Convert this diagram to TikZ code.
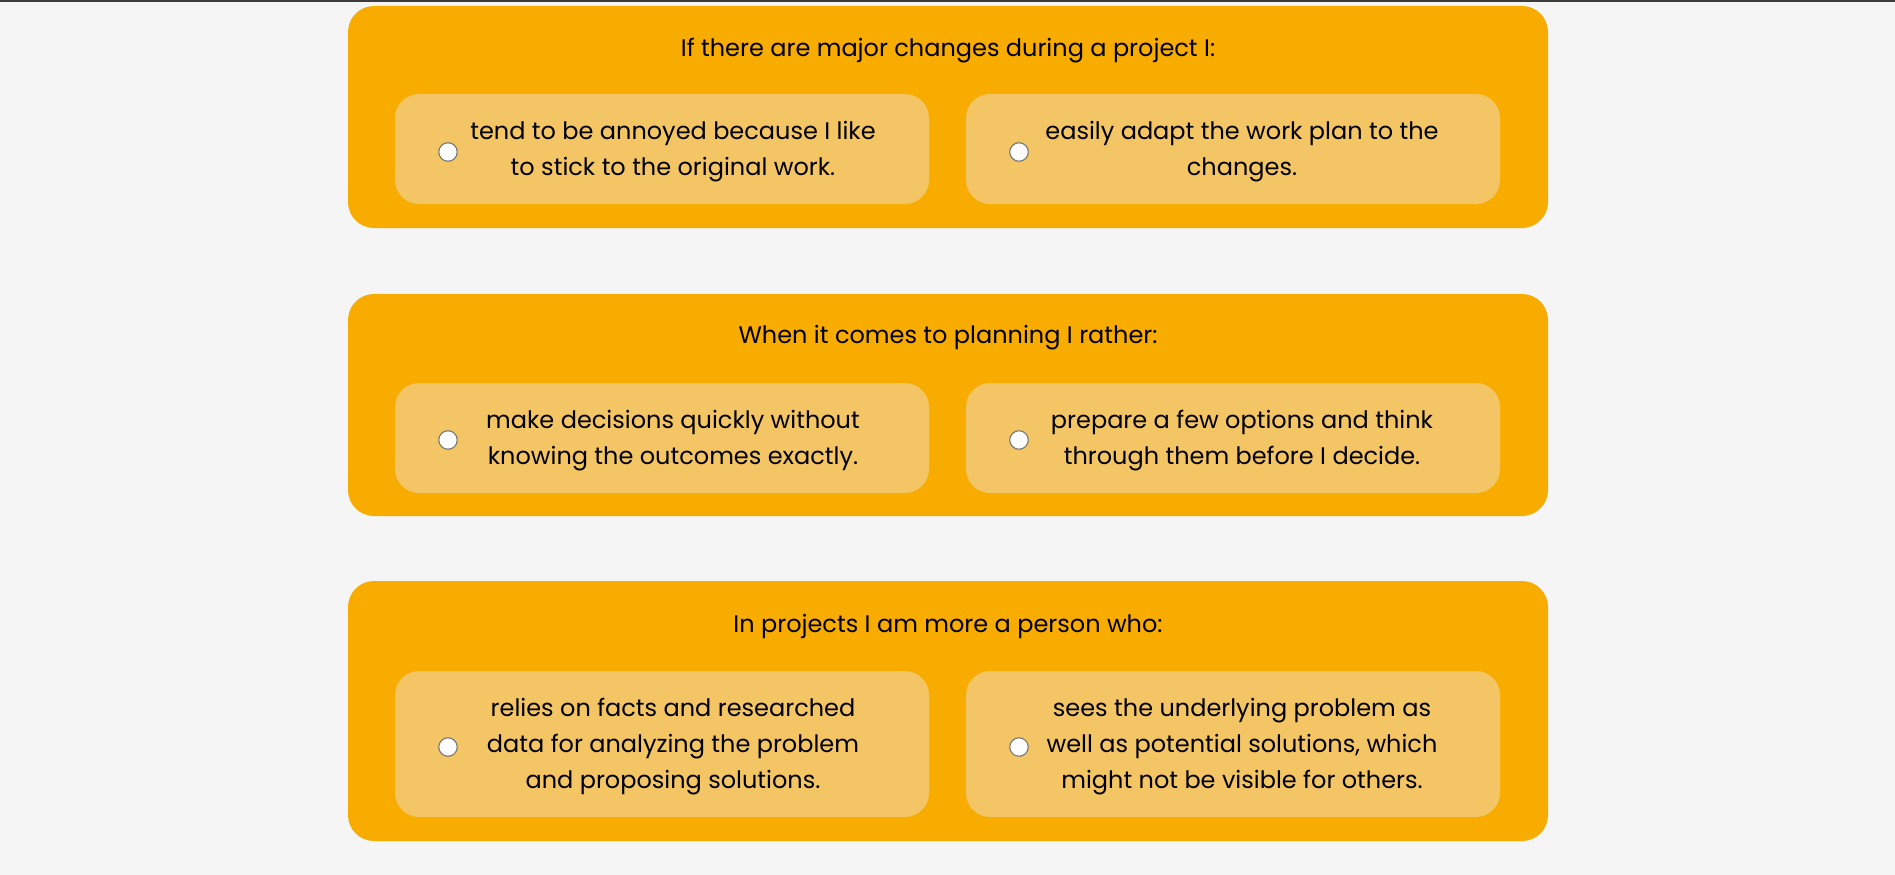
\documentclass[tikz,border=0pt]{standalone}
\usepackage{fontspec}
\setmainfont{Poppins}
\definecolor{bg}{HTML}{F5F5F5}
\definecolor{outerc}{HTML}{F9AC00}
\definecolor{innerc}{HTML}{F3C564}
\definecolor{radioedge}{HTML}{767676}
\definecolor{topline}{HTML}{3C3C3C}
\begin{document}
\begin{tikzpicture}[x=1pt,y=-1pt,
  outerbox/.style={fill=outerc, rounded corners=26pt, inner sep=0pt, minimum width=1200pt},
  innerbox/.style={fill=innerc, rounded corners=24pt, inner sep=0pt, minimum width=534pt},
  radio/.style={circle, fill=white, draw=radioedge, line width=1.1pt, inner sep=0pt, minimum size=18.5pt},
  txt/.style={align=center, inner sep=0pt, font=\fontsize{24}{36.3}\selectfont, text=black},
  qtitle/.style={inner sep=0pt, font=\fontsize{24}{36.3}\selectfont, text=black}]
\fill[bg] (0,0) rectangle (1895,875);
\useasboundingbox (0,0) rectangle (1895,875);
\draw[topline, line width=2pt] (0,1) -- (1895,1);
% question 1
\node[outerbox, minimum height=222pt] (q1) at (948,117) {};
\node[qtitle] (h1) at (948,50.5) {If there are major changes during a project I:};
\node[innerbox, minimum height=110pt] (q1a) at (662,149) {};
\node[innerbox, minimum height=110pt] (q1b) at (1233,149) {};
\node[radio] (r1a) at (448,152) {};
\node[radio] (r1b) at (1019,152) {};
\node[txt] (t1a) at (673,151.5) {tend to be annoyed because I like\\to stick to the original work.};
\node[txt] (t1b) at (1242,151.5) {easily adapt the work plan to the\\changes.};
% question 2
\node[outerbox, minimum height=222pt] (q2) at (948,405) {};
\node[qtitle] (h2) at (948,337.5) {When it comes to planning I rather:};
\node[innerbox, minimum height=110pt] (q2a) at (662,438) {};
\node[innerbox, minimum height=110pt] (q2b) at (1233,438) {};
\node[radio] (r2a) at (448,440) {};
\node[radio] (r2b) at (1019,440) {};
\node[txt] (t2a) at (673,440.5) {make decisions quickly without\\knowing the outcomes exactly.};
\node[txt] (t2b) at (1242,440.5) {prepare a few options and think\\through them before I decide.};
% question 3
\node[outerbox, minimum height=260pt] (q3) at (948,711) {};
\node[qtitle] (h3) at (948,626.5) {In projects I am more a person who:};
\node[innerbox, minimum height=146pt] (q3a) at (662,744) {};
\node[innerbox, minimum height=146pt] (q3b) at (1233,744) {};
\node[radio] (r3a) at (448,747) {};
\node[radio] (r3b) at (1019,747) {};
\node[txt] (t3a) at (673,746.5) {relies on facts and researched\\data for analyzing the problem\\and proposing solutions.};
\node[txt] (t3b) at (1242,746.5) {sees the underlying problem as\\well as potential solutions, which\\might not be visible for others.};
\end{tikzpicture}
\end{document}
